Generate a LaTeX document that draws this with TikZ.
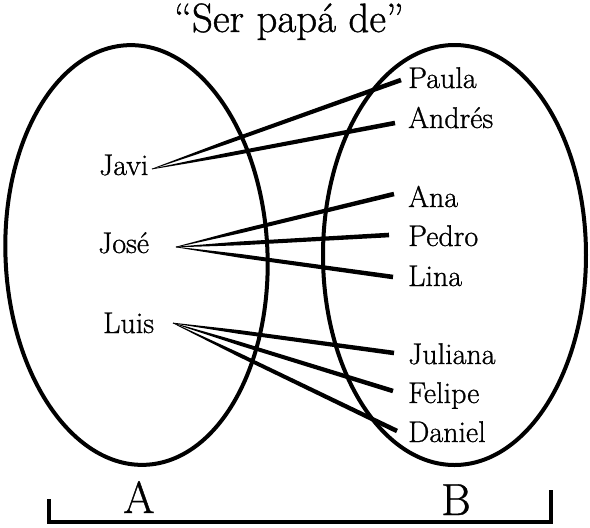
\documentclass[tikz,border=0pt]{standalone}
\usepackage{fontspec}
\newfontfamily\heavy{Latin Modern Roman}[FakeBold=0.9]
\usetikzlibrary{calc}
\tikzset{
  lbl/.style={inner sep=0pt, anchor=base west, font=\heavy\fontsize{30}{36}\selectfont},
  setlbl/.style={inner sep=0pt, anchor=base, font=\heavy\fontsize{45}{54}\selectfont},
  ttl/.style={inner sep=0pt, anchor=base, font=\heavy\fontsize{41}{48}\selectfont},
  setline/.style={line width=4pt},
  brk/.style={line width=4.5pt, line join=miter},
}
\newcommand\taper[2]{%
  \coordinate (tmpm) at ($(#1)!0.3!(#2)$);
  \fill ($(#1)!0.3pt!90:(#2)$) -- ($(tmpm)!1.9pt!90:(#2)$) -- ($(#2)!2.3pt!-90:(#1)$)
     -- ($(#2)!2.3pt!90:(#1)$) -- ($(tmpm)!1.9pt!-90:(#2)$) -- ($(#1)!0.3pt!-90:(#2)$) -- cycle;}
\begin{document}
\begin{tikzpicture}[x=1pt,y=-1pt]
\useasboundingbox (0,0) rectangle (590,528);
% title
\node[ttl] (title) at (289,32) {“Ser papá de”};
% sets
\draw[setline, rotate around={2.5:(136.5,255)}] (136.5,255) ellipse [x radius=131pt, y radius=210pt];
\draw[setline] (454.5,255) ellipse [x radius=131.5pt, y radius=210pt];
% domain
\node[lbl] (javi) at (99,175) {Javi};
\node[lbl] (jose) at (98,253) {José};
\node[lbl] (luis) at (103,333) {Luis};
% codomain
\node[lbl] (paula) at (408,88) {Paula};
\node[lbl] (andres) at (408,128) {Andrés};
\node[lbl] (ana) at (408,207) {Ana};
\node[lbl] (pedro) at (408,246) {Pedro};
\node[lbl] (lina) at (408,286) {Lina};
\node[lbl] (juliana) at (408,364) {Juliana};
\node[lbl] (felipe) at (408,403) {Felipe};
\node[lbl] (daniel) at (408,442) {Daniel};
% connector end points
\coordinate (javiS) at (152,169);
\coordinate (joseS) at (176,247);
\coordinate (luisS) at (173,323);
\coordinate (paulaE) at (401,80);
\coordinate (andresE) at (395,123);
\coordinate (anaE) at (394,194);
\coordinate (pedroE) at (389,235);
\coordinate (linaE) at (393,277);
\coordinate (julianaE) at (394,353);
\coordinate (felipeE) at (393,391);
\coordinate (danielE) at (397,431);
% connectors
\taper{javiS}{paulaE}
\taper{javiS}{andresE}
\taper{joseS}{anaE}
\taper{joseS}{pedroE}
\taper{joseS}{linaE}
\taper{luisS}{julianaE}
\taper{luisS}{felipeE}
\taper{luisS}{danielE}
% bracket and set names
\coordinate (bl) at (49,499);
\coordinate (bbar) at (300,522);
\coordinate (br) at (551,490);
\draw[brk] (bl) |- (bbar) -| (br);
\node[setlbl] (A) at (139,513) {A};
\node[setlbl] (B) at (456,515) {B};
\end{tikzpicture}
\end{document}
